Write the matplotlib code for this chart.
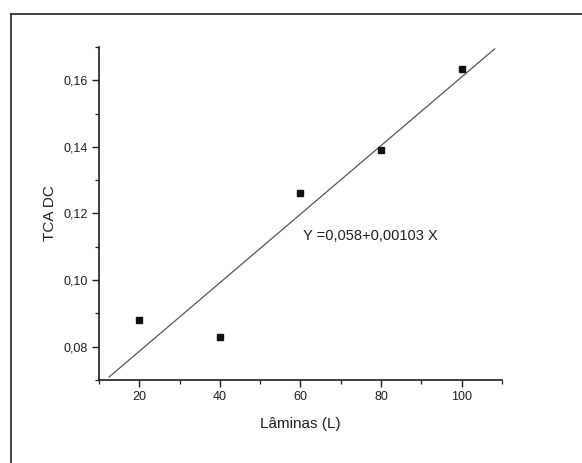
import matplotlib.pyplot as plt
from matplotlib.lines import Line2D
from matplotlib.ticker import MultipleLocator, FixedLocator, FixedFormatter
import numpy as np

plt.rcParams['font.family'] = ['Liberation Sans', 'DejaVu Sans']

laminas = [20, 40, 60, 80, 100]
tca_dc = [0.088, 0.083, 0.1262, 0.1392, 0.1634]
intercept = 0.058
slope = 0.00103
fit_range = [12.5, 108.2]
fit_label = "Y =0,058+0,00103 X"

x_ticks = [20, 40, 60, 80, 100]
x_labels = ["20", "40", "60", "80", "100"]
y_ticks = [0.08, 0.10, 0.12, 0.14, 0.16]
y_labels = ["0,08", "0,10", "0,12", "0,14", "0,16"]

ink = "#1e1e1e"

fig = plt.figure(figsize=(5.82, 4.63), dpi=100)
ax = fig.add_axes([0.170, 0.1793, 0.8625 - 0.170, 0.8985 - 0.1793])

# scanned page frame (top and left edges only)
fig.add_artist(Line2D([0.0189, 1.0], [0.9698, 0.9698], transform=fig.transFigure,
                      color="#333333", lw=1.3))
fig.add_artist(Line2D([0.0189, 0.0189], [0.0, 0.9698], transform=fig.transFigure,
                      color="#333333", lw=1.3))

xs = np.linspace(fit_range[0], fit_range[1], 100)
ax.plot(xs, intercept + slope * xs, color="#555555", lw=0.9)
ax.plot(laminas, tca_dc, ls="none", marker="s", ms=5, color="#111111")

ax.text(60.7, 0.1132, fit_label, fontsize=10.5, color=ink, va="center", ha="left")

ax.set_xlim(10, 110)
ax.set_ylim(0.07, 0.17)

ax.xaxis.set_major_locator(FixedLocator(x_ticks))
ax.xaxis.set_major_formatter(FixedFormatter(x_labels))
ax.xaxis.set_minor_locator(MultipleLocator(10))
ax.yaxis.set_major_locator(FixedLocator(y_ticks))
ax.yaxis.set_major_formatter(FixedFormatter(y_labels))
ax.yaxis.set_minor_locator(MultipleLocator(0.01))

for side in ("top", "right"):
    ax.spines[side].set_visible(False)
for side in ("left", "bottom"):
    ax.spines[side].set_color(ink)
    ax.spines[side].set_linewidth(1.2)

ax.tick_params(which="major", direction="out", length=5, width=1.0, color=ink,
               labelsize=9, labelcolor=ink, pad=3)
ax.tick_params(which="minor", direction="out", length=3, width=0.9, color=ink)

ax.set_xlabel("Lâminas (L)", fontsize=11, color=ink, labelpad=10)
ax.set_ylabel("TCA DC", fontsize=11, color=ink, labelpad=5)

fig.savefig("out.png", dpi=100)
